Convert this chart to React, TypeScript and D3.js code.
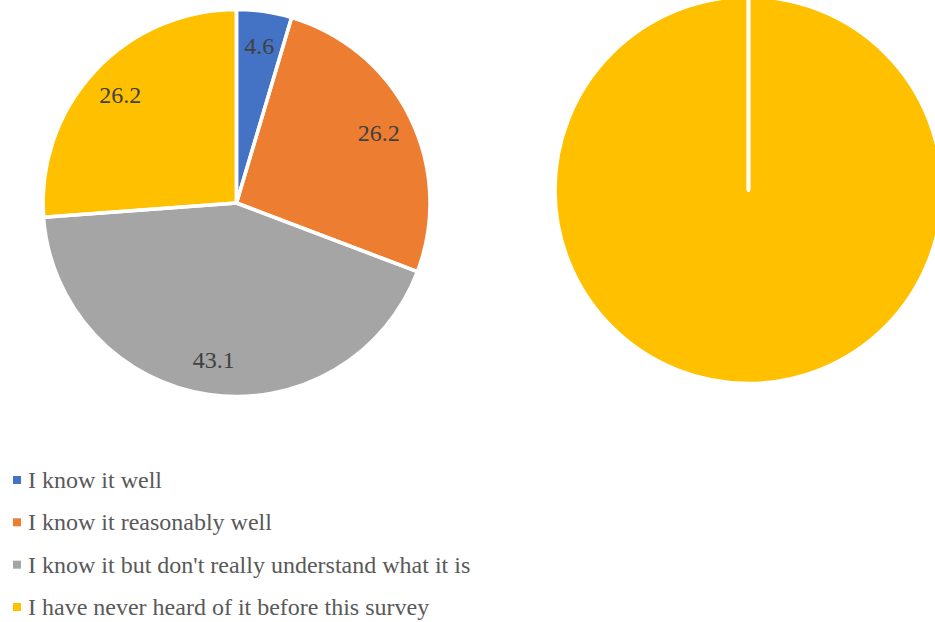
import React from "react";
import * as d3 from "d3";

const categories = [
  "I know it well",
  "I know it reasonably well",
  "I know it but don't really understand what it is",
  "I have never heard of it before this survey",
];
const seriesA = [4.6, 26.2, 43.1, 26.2];
const seriesB = [0, 0, 0, 100];
const colors = ["#4472C4", "#ED7D31", "#A5A5A5", "#FFC000"];

const W = 935;
const H = 622;
const R = 193.5;
const pieA = { cx: 236.5, cy: 203 };
const pieB = { cx: 748.5, cy: 190 };
const FONT = `"Liberation Serif"`;

function Pie({ values, cx, cy, labels }: { values: number[]; cx: number; cy: number; labels: boolean }) {
  const pie = d3.pie<number>().sort(null).value((d) => d);
  const arcs = pie(values);
  const arc = d3.arc<d3.PieArcDatum<number>>().innerRadius(0).outerRadius(R);
  const labelArc = d3.arc<d3.PieArcDatum<number>>().innerRadius(R * 0.82).outerRadius(R * 0.82);
  return (
    <g transform={`translate(${cx},${cy})`}>
      {arcs.map((a, i) => (
        <path key={"f" + i} d={arc(a) || ""} fill={colors[i]} />
      ))}
      {arcs.map((a, i) => (
        <path key={"s" + i} d={arc(a) || ""} fill="none" stroke="#fff" strokeWidth={3.5} strokeLinejoin="round" />
      ))}
      {labels &&
        arcs.map((a, i) => {
          const [x, y] = labelArc.centroid(a);
          return (
            <text
              key={"t" + i}
              x={x}
              y={y + 8}
              textAnchor="middle"
              fontSize={24}
              style={{ fontFamily: FONT }}
              fill="#404040"
            >
              {a.data.toFixed(1)}
            </text>
          );
        })}
    </g>
  );
}

export default function App() {
  const legendY = d3.scalePoint<string>().domain(categories).range([480, 607]);
  return (
    <svg
      width={W}
      height={H}
      style={{ position: "absolute", left: 0, top: 0, background: "#fff" }}
    >
      <Pie values={seriesA} cx={pieA.cx} cy={pieA.cy} labels={true} />
      <Pie values={seriesB} cx={pieB.cx} cy={pieB.cy} labels={false} />
      {categories.map((c, i) => {
        const y = legendY(c) as number;
        return (
          <g key={c}>
            <rect x={13} y={y - 4} width={8} height={8} fill={colors[i]} />
            <text x={28} y={y + 8} fontSize={24} style={{ fontFamily: FONT }} fill="#595959">
              {c}
            </text>
          </g>
        );
      })}
    </svg>
  );
}
